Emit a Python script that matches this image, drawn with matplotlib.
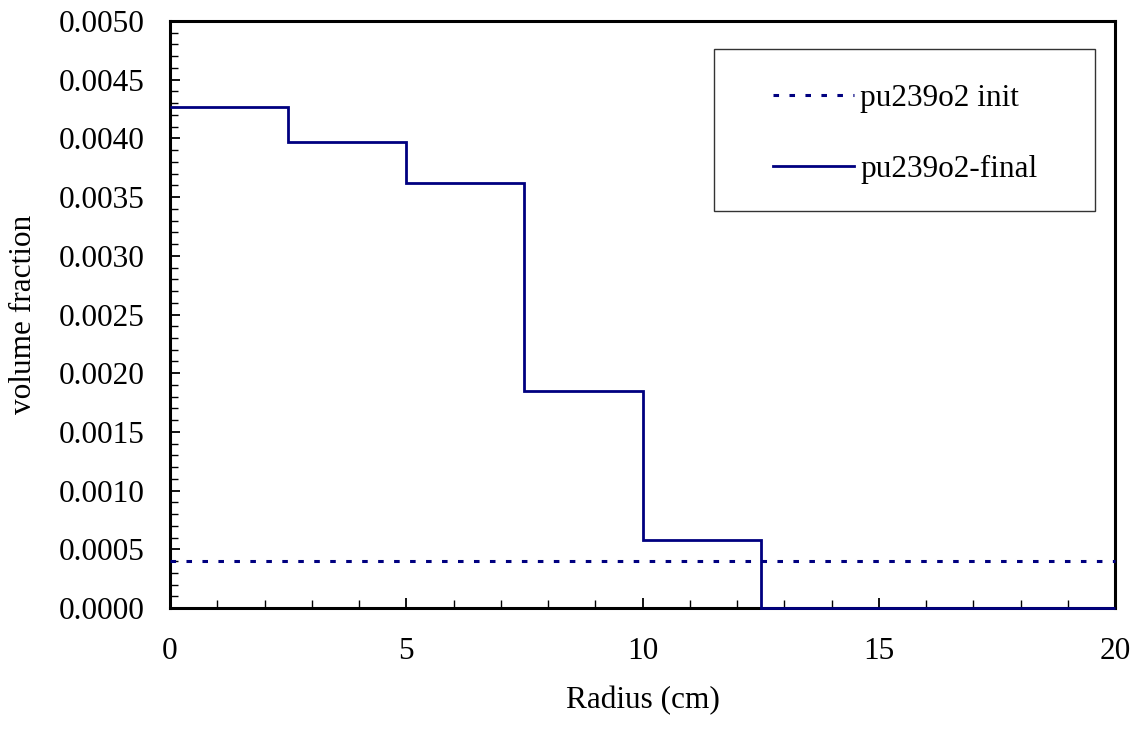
import numpy as np
import matplotlib
matplotlib.use('Agg')
import matplotlib.pyplot as plt
from matplotlib.ticker import MultipleLocator, FormatStrFormatter
from matplotlib.patches import Rectangle

# step profile of pu239o2 after burn (cell edges in cm)
radius_edges = [0.0, 2.5, 5.0, 7.5, 10.0, 12.5, 20.0]
final_fraction = [0.00427, 0.00397, 0.00362, 0.00185, 0.00058, 0.0]
# initial loading, flat
init_radius = [0.0, 20.0]
init_fraction = [0.0004, 0.0004]

x_ticks = [0, 5, 10, 15, 20]
y_ticks = [0.0, 0.0005, 0.0010, 0.0015, 0.0020, 0.0025, 0.0030, 0.0035, 0.0040, 0.0045, 0.0050]

plt.rcParams['font.family'] = ['Liberation Serif', 'DejaVu Serif']
plt.rcParams['lines.scale_dashes'] = False
fs = 22.5
navy = '#000080'

fig = plt.figure(figsize=(11.38, 7.31), dpi=100)
ax = fig.add_axes([170/1138., 1 - 608/731., (1115-170)/1138., (608-21)/731.])

ax.plot(init_radius, init_fraction, color=navy, linewidth=2.2,
        dashes=(4.0, 7.5), label='pu239o2 init', clip_on=False, zorder=3)
ax.stairs(final_fraction, radius_edges, baseline=None, color=navy, linewidth=2.0,
          label='pu239o2-final', clip_on=False, zorder=4)

ax.set_xlim(0, 20)
ax.set_ylim(0, 0.005)
ax.set_xticks(x_ticks)
ax.set_yticks(y_ticks)
ax.yaxis.set_major_formatter(FormatStrFormatter('%.4f'))
ax.xaxis.set_minor_locator(MultipleLocator(1.0))
ax.yaxis.set_minor_locator(MultipleLocator(0.0001))
ax.tick_params(which='both', direction='in', top=False, right=False, color='black')
ax.tick_params(which='major', length=7.5, width=1.3, labelsize=fs)
ax.tick_params(which='minor', length=5.5, width=1.0)
ax.tick_params(axis='x', which='major', pad=21)
ax.tick_params(axis='y', which='major', pad=18)
for s in ['top', 'bottom', 'left', 'right']:
    ax.spines[s].set_linewidth(2.2)

ax.set_xlabel('Radius (cm)', fontsize=fs, labelpad=14)
ax.set_ylabel('volume fraction', fontsize=fs, labelpad=15)

# legend box
ax.add_patch(Rectangle((0.5757, 0.6763), 0.9788 - 0.5757, 0.9523 - 0.6763,
                       transform=ax.transAxes, fill=False, edgecolor='#333333',
                       linewidth=1.0, zorder=5))
ax.legend(loc='center left', bbox_to_anchor=(0.638, 0.8075), frameon=False,
          fontsize=fs, handlelength=2.6, handletextpad=0.2, labelspacing=1.35,
          borderpad=0, borderaxespad=0)

fig.savefig('out.png', dpi=100)
